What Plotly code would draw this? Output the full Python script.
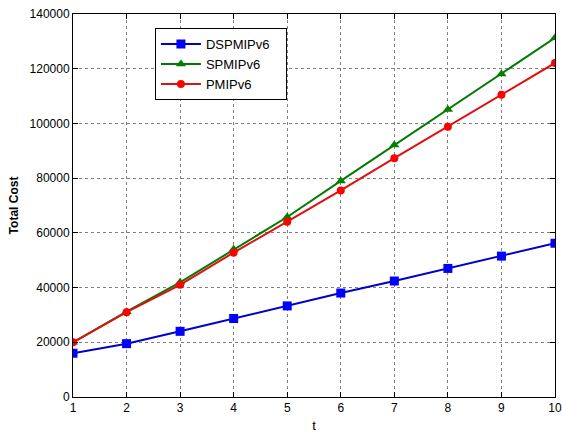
import plotly.graph_objects as go

t = [1, 2, 3, 4, 5, 6, 7, 8, 9, 10]
dspmipv6 = [16000, 19500, 24000, 28700, 33300, 38000, 42400, 47000, 51500, 56200]
spmipv6 = [20000, 31200, 41900, 54000, 65800, 79000, 92100, 105100, 118100, 131300]
pmipv6 = [20000, 31000, 41000, 52800, 64100, 75500, 87300, 98800, 110500, 122100]
series_names = ["DSPMIPv6", "SPMIPv6", "PMIPv6"]

x_ticks = list(range(1, 11))
y_ticks = [0, 20000, 40000, 60000, 80000, 100000, 120000, 140000]

pad = "\u00a0\u00a0\u00a0"

fig = go.Figure()
fig.add_trace(go.Scatter(x=t, y=dspmipv6, name=series_names[0] + pad, mode="lines+markers",
                         line=dict(color="#0000c8", width=2),
                         marker=dict(symbol="square", size=9, color="#0000ff")))
fig.add_trace(go.Scatter(x=t, y=spmipv6, name=series_names[1] + pad, mode="lines+markers",
                         line=dict(color="#007a00", width=2),
                         marker=dict(symbol="triangle-up", size=9, color="#008000")))
fig.add_trace(go.Scatter(x=t, y=pmipv6, name=series_names[2] + pad, mode="lines+markers",
                         line=dict(color="#e01010", width=2),
                         marker=dict(symbol="circle", size=8, color="#ff0000")))

axis_common = dict(
    showline=True, linecolor="black", linewidth=1, mirror="ticks",
    ticks="inside", ticklen=5, tickcolor="black",
    showgrid=True, gridcolor="#808080", griddash="dot", gridwidth=1,
    zeroline=False, automargin=False,
    tickfont=dict(family="Liberation Sans, Arial, sans-serif", size=12, color="black"),
)

fig.update_xaxes(range=[1, 10], tickvals=x_ticks,
                 title=dict(text="t", font=dict(family="Liberation Sans, Arial", size=13, color="black"), standoff=6),
                 **axis_common)
fig.update_yaxes(range=[0, 140000], tickvals=y_ticks, tickformat="d",
                 title=dict(text="<b>Total Cost</b>", font=dict(family="Liberation Sans, Arial", size=12, color="black"), standoff=8),
                 **axis_common)

fig.update_layout(
    width=562, height=433,
    margin=dict(l=73, r=7, t=14, b=36),
    plot_bgcolor="white", paper_bgcolor="white",
    font=dict(family="Liberation Sans, Arial, sans-serif", size=12, color="black"),
    legend=dict(x=0.17, y=0.963, xanchor="left", yanchor="top",
                bordercolor="black", borderwidth=1, bgcolor="white",
                font=dict(size=13, color="black"), tracegroupgap=2, itemwidth=40),
    showlegend=True,
)

fig.write_html("out.html", config={"displayModeBar": False},
               post_script="document.body.style.margin='0';")
